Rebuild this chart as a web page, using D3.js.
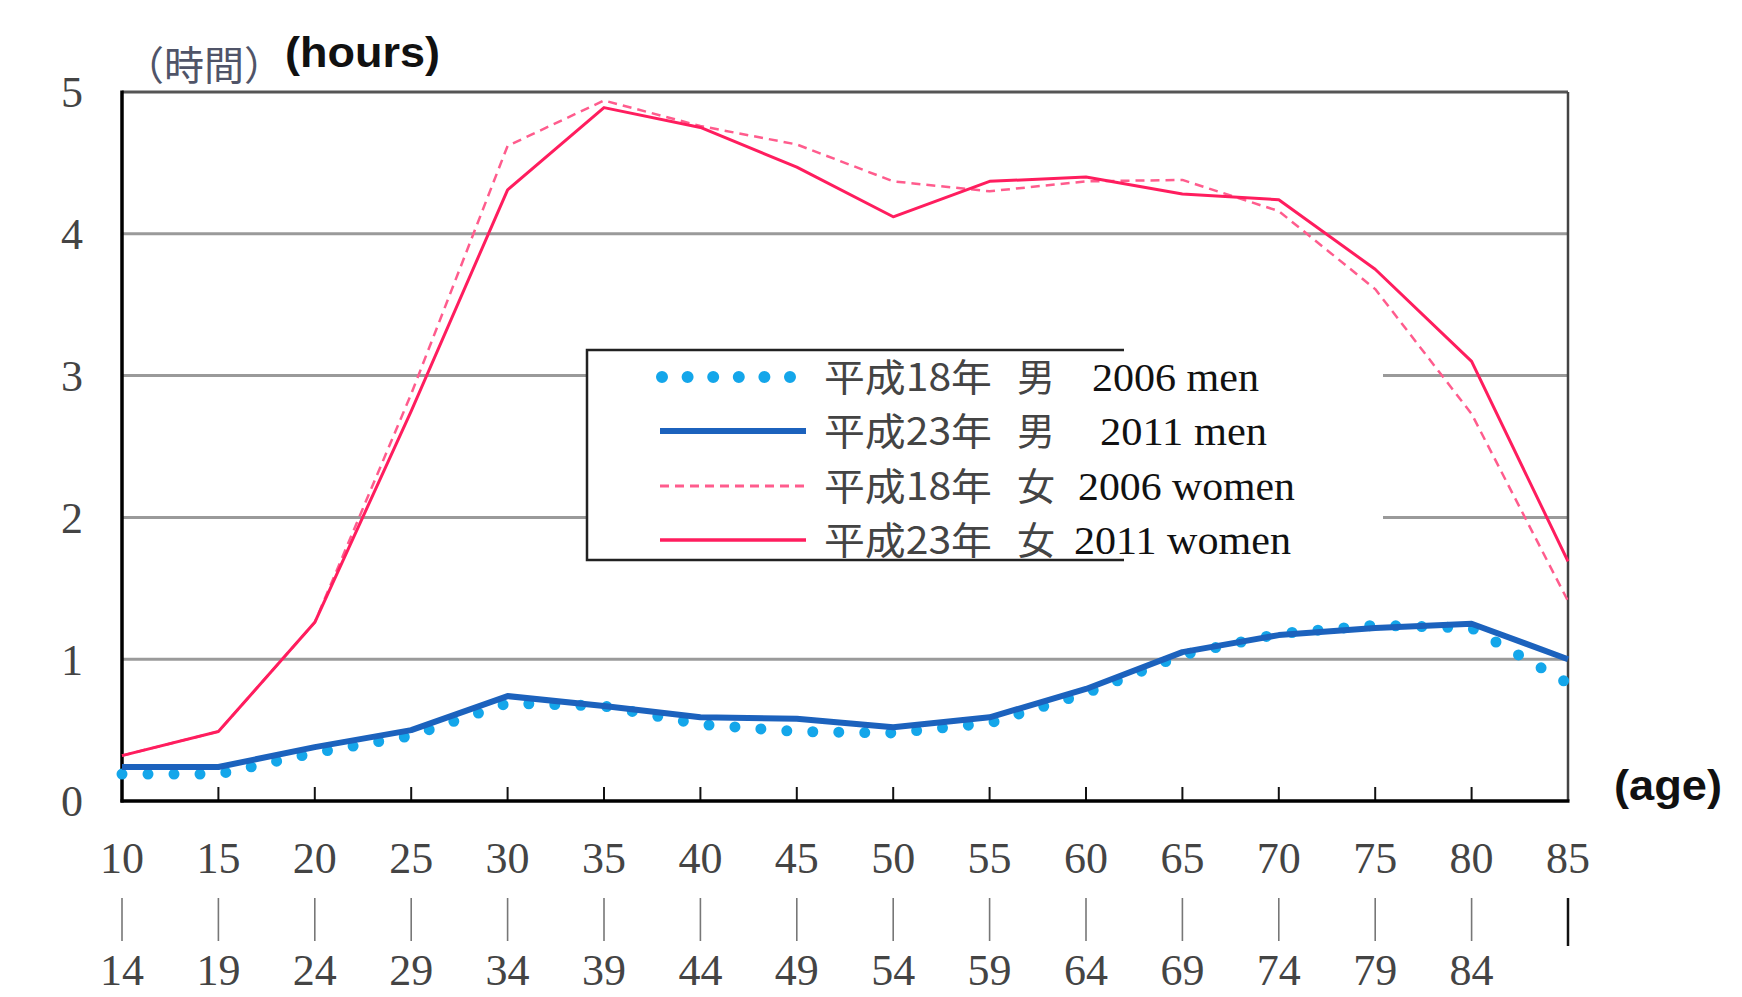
<!DOCTYPE html>
<html><head><meta charset="utf-8">
<script src="https://cdn.jsdelivr.net/npm/d3@7"></script>
<style>
html,body{margin:0;padding:0;background:#fff;}
svg{display:block;}
</style></head>
<body>
<svg id="chart" width="1742" height="997"></svg>
<script>
// ---- data ----
const ageStart = ["10","15","20","25","30","35","40","45","50","55","60","65","70","75","80","85"];
const ageEnd   = ["14","19","24","29","34","39","44","49","54","59","64","69","74","79","84",""];
const yTicks = [0,1,2,3,4,5];
const men2006   = [0.19,0.19,0.34,0.46,0.69,0.67,0.54,0.49,0.48,0.55,0.76,1.03,1.18,1.24,1.22,0.83];
const men2011   = [0.24,0.24,0.38,0.50,0.74,0.67,0.59,0.58,0.52,0.59,0.79,1.05,1.17,1.22,1.25,1.00];
const women2006 = [0.32,0.49,1.26,2.87,4.62,4.94,4.76,4.63,4.37,4.30,4.37,4.38,4.16,3.61,2.73,1.41];
const women2011 = [0.32,0.49,1.26,2.75,4.31,4.89,4.75,4.47,4.12,4.37,4.40,4.28,4.24,3.75,3.10,1.69];
const seriesNames = ["men2006","men2011","women2006","women2011"];
const legendJa = ["平成18年","平成23年","平成18年","平成23年"];
const legendSex = ["男","男","女","女"];
const legendEn = ["2006 men","2011 men","2006 women","2011 women"];

// ---- layout ----
const svg = d3.select("#chart");
const L = 122, R = 1568, T = 92, B = 801;
const x = d3.scalePoint().domain(ageStart).range([L, R]).padding(0);
const y = d3.scaleLinear().domain([0,5]).range([B, T]);

const styles = {
  men2006:   {color:"#14a6ea", width:11, dash:"0 26", cap:"round"},
  men2011:   {color:"#1c62bd", width:6, dash:null, cap:"butt"},
  women2006: {color:"#ff5c8d", width:2.5, dash:"9 6", cap:"butt"},
  women2011: {color:"#ff1d5e", width:3, dash:null, cap:"butt"}
};
const data = {men2006, men2011, women2006, women2011};

// gridlines
svg.append("g").selectAll("line").data(yTicks.filter(d => d>0 && d<5)).join("line")
  .attr("x1", L).attr("x2", R).attr("y1", d=>y(d)).attr("y2", d=>y(d))
  .attr("stroke", "#9a9a9a").attr("stroke-width", 3);

// frame top & right
svg.append("line").attr("x1", L).attr("x2", R).attr("y1", y(5)).attr("y2", y(5))
  .attr("stroke", "#555").attr("stroke-width", 3);
svg.append("line").attr("x1", R).attr("x2", R).attr("y1", y(5)).attr("y2", y(0))
  .attr("stroke", "#444").attr("stroke-width", 2.5);

// x ticks (inward)
svg.append("g").selectAll("line").data(ageStart.slice(1, -1)).join("line")
  .attr("x1", d=>x(d)).attr("x2", d=>x(d)).attr("y1", B).attr("y2", B-14)
  .attr("stroke", "#111").attr("stroke-width", 2);

// axes lines left & bottom
svg.append("line").attr("x1", L).attr("x2", L).attr("y1", y(5)-1.5).attr("y2", B+1.5)
  .attr("stroke", "#000").attr("stroke-width", 3.5);
svg.append("line").attr("x1", L-1.5).attr("x2", R+1.5).attr("y1", B).attr("y2", B)
  .attr("stroke", "#000").attr("stroke-width", 3.5);

// y labels
svg.append("g").selectAll("text").data(yTicks).join("text")
  .attr("x", 72).attr("y", d=>y(d)).attr("dy", "0.35em")
  .attr("text-anchor", "middle")
  .attr("font-family", "'Liberation Serif', 'DejaVu Serif', serif")
  .attr("font-size", 44).attr("fill", "#444")
  .text(d=>d);

// x labels
const xl = svg.append("g").attr("font-family", "'Liberation Serif', 'DejaVu Serif', serif")
  .attr("font-size", 44).attr("fill", "#444").attr("text-anchor", "middle");
xl.selectAll("text.top").data(ageStart).join("text").attr("class","top")
  .attr("x", d=>x(d)).attr("y", 873).text(d=>d);
xl.selectAll("text.bot").data(ageStart.map((d,i)=>({s:d,e:ageEnd[i]}))).join("text").attr("class","bot")
  .attr("x", d=>x(d.s)).attr("y", 985).text(d=>d.e);
svg.append("g").selectAll("line").data(ageStart).join("line")
  .attr("x1", d=>x(d)).attr("x2", d=>x(d)).attr("y1", 898).attr("y2", d=>d==="85"?946:941)
  .attr("stroke", d=>d==="85"?"#111":"#777").attr("stroke-width", d=>d==="85"?2.5:1.6);

// series lines
const lineGen = d3.line().x((d,i)=>x(ageStart[i])).y(d=>y(d));
const order = ["women2006","women2011","men2006","men2011"];
svg.append("g").selectAll("path").data(order).join("path")
  .attr("d", k=>lineGen(data[k]))
  .attr("fill", "none")
  .attr("stroke", k=>styles[k].color)
  .attr("stroke-width", k=>styles[k].width)
  .attr("stroke-dasharray", k=>styles[k].dash)
  .attr("stroke-linecap", k=>styles[k].cap)
  .attr("stroke-linejoin", "round");

// legend
const LX = 587, LT = 350, LB = 560, LBR = 1124, LW = 1383;
svg.append("rect").attr("x", LX).attr("y", LT).attr("width", LW-LX).attr("height", LB-LT).attr("fill", "#fff");
svg.append("path").attr("d", `M${LBR},${LT}H${LX}V${LB}H${LBR}`)
  .attr("fill","none").attr("stroke","#222").attr("stroke-width",2.5);
const rowY = [377, 431, 486, 540];
const enX = [1092, 1100, 1078, 1074];
const enW = [167, 167, 217, 217];
const lg = svg.append("g");
seriesNames.forEach((k,i)=>{
  const st = styles[k];
  lg.append("line").attr("x1", k==="men2006"?662:660).attr("x2", k==="men2006"?800:806).attr("y1", rowY[i]).attr("y2", rowY[i])
    .attr("stroke", st.color)
    .attr("stroke-width", k==="men2006"?12: (k==="men2011"?6:(k==="women2011"?3.5:3)))
    .attr("stroke-dasharray", k==="men2006"?"0 25.6":st.dash)
    .attr("stroke-linecap", st.cap);
  lg.append("text").attr("x", 824).attr("y", rowY[i]+14)
    .attr("font-family","'Noto Sans CJK JP', sans-serif").attr("font-size", 38).attr("fill","#444")
    .attr("textLength", 168).attr("lengthAdjust","spacingAndGlyphs")
    .text(legendJa[i]);
  lg.append("text").attr("x", 1017).attr("y", rowY[i]+14)
    .attr("font-family","'Noto Sans CJK JP', sans-serif").attr("font-size", 38).attr("fill","#444")
    .text(legendSex[i]);
  lg.append("text").attr("x", enX[i]).attr("y", rowY[i]+14)
    .attr("font-family","'Liberation Serif', serif").attr("font-size", 39).attr("fill","#111")
    .attr("textLength", enW[i]).attr("lengthAdjust","spacingAndGlyphs")
    .text(legendEn[i]);
});

// axis titles
svg.append("text").attr("x", 124).attr("y", 80)
  .attr("font-family","'Noto Sans CJK JP', sans-serif").attr("font-size", 40).attr("fill","#505468")
  .text("（時間）");
svg.append("text").attr("x", 285).attr("y", 67)
  .attr("font-family","'Liberation Sans', Arial, sans-serif").attr("font-weight","bold").attr("font-size", 42).attr("fill","#111")
  .attr("textLength", 155).attr("lengthAdjust","spacingAndGlyphs")
  .text("(hours)");
svg.append("text").attr("x", 1614).attr("y", 800)
  .attr("font-family","'Liberation Sans', Arial, sans-serif").attr("font-weight","bold").attr("font-size", 42).attr("fill","#111")
  .attr("textLength", 108).attr("lengthAdjust","spacingAndGlyphs")
  .text("(age)");
</script>
</body></html>
